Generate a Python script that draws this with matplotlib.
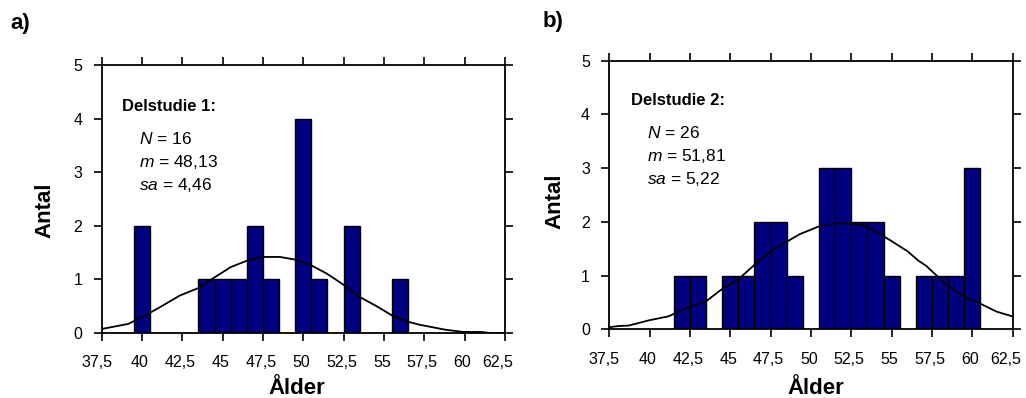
import matplotlib.pyplot as plt
from matplotlib.transforms import ScaledTranslation

plt.rcParams['font.family'] = ['Liberation Sans', 'DejaVu Sans']
plt.rcParams['mathtext.fontset'] = 'custom'
plt.rcParams['mathtext.it'] = 'Liberation Sans:italic'
plt.rcParams['mathtext.rm'] = 'Liberation Sans'

# Delstudie 1
ages1 = [40, 44, 45, 46, 47, 48, 50, 51, 53, 56]
counts1 = [2, 1, 1, 1, 2, 1, 4, 1, 2, 1]
curve1_x = [37.5, 39.15, 40.1, 41.1, 42.35, 43.5, 44.4, 45.5, 46.5, 47.45, 48.55,
            49.5, 50.45, 51.45, 52.5, 53.45, 54.55, 55.6, 56.5, 57.2, 58.8, 59.9, 61.0, 61.6, 62.5]
curve1_y = [0.075, 0.17, 0.31, 0.48, 0.70, 0.84, 1.02, 1.23, 1.35, 1.42, 1.42,
            1.37, 1.27, 1.11, 0.90, 0.68, 0.50, 0.31, 0.21, 0.155, 0.062, 0.02, 0.02, 0.0, 0.0]
stats1 = ['16', '48,13', '4,46']

# Delstudie 2
ages2 = [42, 43, 45, 46, 47, 48, 49, 51, 52, 53, 54, 55, 57, 58, 59, 60]
counts2 = [1, 1, 1, 1, 2, 2, 1, 3, 3, 2, 2, 1, 1, 1, 1, 3]
curve2_x = [37.5, 38.05, 38.7, 40.0, 41.15, 42.5, 43.45, 44.4, 45.5, 46.5, 47.5, 48.5,
            49.3, 50.45, 51.5, 52.55, 53.5, 54.9, 56.0, 56.65, 57.15, 58.4, 59.5, 60.55, 61.5, 62.5]
curve2_y = [0.04, 0.06, 0.07, 0.17, 0.24, 0.42, 0.51, 0.73, 0.93, 1.20, 1.45, 1.63,
            1.77, 1.91, 1.97, 1.97, 1.91, 1.66, 1.45, 1.28, 1.18, 0.83, 0.61, 0.47, 0.33, 0.24]
stats2 = ['26', '51,81', '5,22']

xticks = [37.5, 40, 42.5, 45, 47.5, 50, 52.5, 55, 57.5, 60, 62.5]
xticklabels = ['37,5', '40', '42,5', '45', '47,5', '50', '52,5', '55', '57,5', '60', '62,5']

fig = plt.figure(figsize=(10.26, 3.98), dpi=100)
ax1 = fig.add_axes([0.0991, 0.1633, 0.393, 0.673])
ax2 = fig.add_axes([0.5939, 0.1726, 0.393, 0.675])

panels = [
    (ax1, ages1, counts1, curve1_x, curve1_y, stats1, 'Delstudie 1:', (0.05, 0.844), (0.093, 0.723)),
    (ax2, ages2, counts2, curve2_x, curve2_y, stats2, 'Delstudie 2:', (0.053, 0.851), (0.094, 0.730)),
]

for ax, ages, counts, cx, cy, st, title, tpos, spos in panels:
    ax.bar(ages, counts, width=1.0, color='#000080', edgecolor='black', linewidth=1.0, zorder=2)
    ax.plot(cx, cy, color='black', linewidth=1.3, zorder=3)
    ax.set_xlim(37.5, 62.5)
    ax.set_ylim(0, 5)
    ax.set_xticks(xticks)
    ax.set_xticklabels(xticklabels)
    ax.set_yticks([0, 1, 2, 3, 4, 5])
    ax.tick_params(axis='both', direction='out', length=6, width=1.2, labelsize=11.5,
                   top=True, right=True)
    ax.tick_params(axis='x', pad=10)
    ax.tick_params(axis='y', pad=8)
    for s in ax.spines.values():
        s.set_linewidth(1.3)
    # the original labels sit a little left of their ticks, the end ones more so
    labels = ax.get_xticklabels()
    for i, lab in enumerate(labels):
        dx = -2
        if i == 0:
            dx = -5
        elif i == len(labels) - 1:
            dx = -7
        lab.set_transform(lab.get_transform() + ScaledTranslation(dx / 100, 0, fig.dpi_scale_trans))
    ax.text(tpos[0], tpos[1], title, transform=ax.transAxes, fontsize=12,
            fontweight='bold', va='center', ha='left')
    lines = [r'$N$ = ' + st[0], r'$m$ = ' + st[1], r'$sa$ = ' + st[2]]
    for i, line in enumerate(lines):
        ax.text(spos[0], spos[1] - i * 0.085, line, transform=ax.transAxes,
                fontsize=12.5, va='center', ha='left')

fig.text(45 / 1026, 1 - 210 / 398, 'Antal', rotation=90, fontsize=16, fontweight='bold',
         ha='center', va='center')
fig.text(555 / 1026, 1 - 201 / 398, 'Antal', rotation=90, fontsize=16, fontweight='bold',
         ha='center', va='center')
fig.text(297 / 1026, 1 - 388 / 398, 'Ålder', fontsize=16, fontweight='bold',
         ha='center', va='center')
fig.text(816 / 1026, 1 - 388 / 398, 'Ålder', fontsize=16, fontweight='bold',
         ha='center', va='center')
fig.text(10 / 1026, 1 - 23 / 398, 'a)', fontsize=16, fontweight='bold', ha='left', va='center')
fig.text(543 / 1026, 1 - 21 / 398, 'b)', fontsize=16, fontweight='bold', ha='left', va='center')

fig.savefig('out.png', dpi=100)
